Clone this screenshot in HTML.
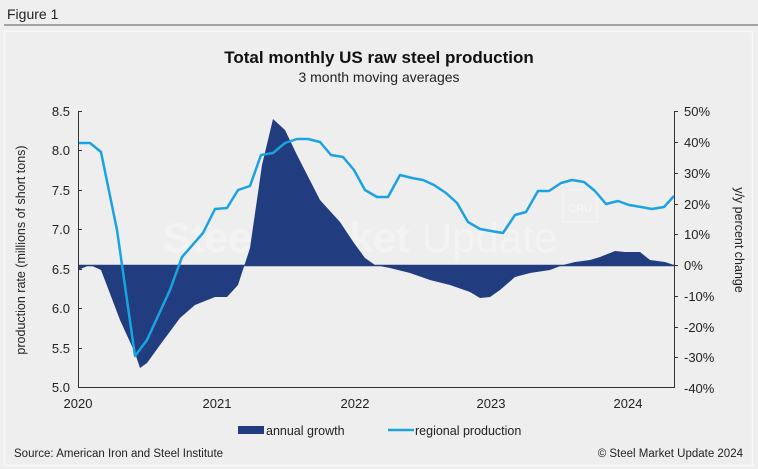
<!DOCTYPE html>
<html><head><meta charset="utf-8"><style>
body{margin:0;background:#efefef;}
svg{display:block;font-family:"Liberation Sans",Arial,sans-serif;}
</style></head><body>
<svg width="758" height="469" viewBox="0 0 758 469">
<rect width="758" height="469" fill="#efefef"/>
<text x="7" y="19" font-size="14" fill="#222">Figure 1</text>
<line x1="4" y1="25" x2="758" y2="25" stroke="#555" stroke-width="1"/>
<rect x="4.5" y="31.5" width="748" height="434" fill="#eeeeee" stroke="#f8f8f8" stroke-width="1.5"/>
<text x="379" y="63" font-size="17" font-weight="bold" text-anchor="middle" fill="#111">Total monthly US raw steel production</text>
<text x="379" y="82" font-size="14" text-anchor="middle" fill="#222">3 month moving averages</text>
<text x="360" y="252" font-size="42" font-weight="bold" text-anchor="middle" fill="#ffffff" fill-opacity="0.3">Steel Market <tspan font-weight="normal">Update</tspan></text>
<rect x="563" y="190" width="34" height="32" fill="none" stroke="#fff" stroke-opacity="0.4"/>
<text x="580" y="212" font-size="11" text-anchor="middle" fill="#fff" fill-opacity="0.5">CRU</text>
<!-- area -->
<path d="M78,265 L78,270 L90,265 L101,270 L120,320 L135,353 L140,368 L147,363 L160,345 L180,318 L195,305 L215,297 L227,297 L238,285 L250,248 L262,165 L273,119 L285,130 L297,155 L320,200 L340,222 L354,243 L365,258 L375,265 L390,268 L410,273 L430,280 L450,285 L470,292 L480,298 L490,297 L500,290 L515,277 L530,273 L550,270 L563,265 L575,262 L590,260 L600,257 L615,251 L625,252 L640,252 L650,260 L665,262 L674,265 Z" fill="#223d7f"/>
<line x1="78" y1="265.5" x2="674" y2="265.5" stroke="#223d7f" stroke-width="1.5"/>
<!-- line -->
<polyline fill="none" stroke="#1aa3e0" stroke-width="2.5" stroke-linejoin="round" points="78,143 90,143 101,152 117,230 135,356 147,340 170,290 182,257 203,233 215,209 227,208 238,190 250,186 261,155 273,153 285,143 297,139 308,139 320,142 331,155 343,157 354,170 365,190 377,197 388,197 400,175 412,178 423,180 434,185 446,193 457,203 468,222 480,229 491,231 503,233 515,215 526,212 538,191 549,191 561,183 572,180 584,182 595,191 606,204 618,201 629,205 641,207 652,209 664,207 674,196"/>
<!-- axes -->
<g stroke="#333" stroke-width="1">
<line x1="78.5" y1="111" x2="78.5" y2="388"/>
<line x1="78" y1="387.5" x2="674" y2="387.5"/>
<line x1="674.5" y1="111" x2="674.5" y2="388"/>
<line x1="78" y1="111.5" x2="82" y2="111.5"/><line x1="78" y1="150.5" x2="82" y2="150.5"/><line x1="78" y1="190.5" x2="82" y2="190.5"/><line x1="78" y1="229.5" x2="82" y2="229.5"/><line x1="78" y1="269.5" x2="82" y2="269.5"/><line x1="78" y1="308.5" x2="82" y2="308.5"/><line x1="78" y1="348.5" x2="82" y2="348.5"/>
<line x1="674" y1="111.5" x2="678" y2="111.5"/><line x1="674" y1="142.5" x2="678" y2="142.5"/><line x1="674" y1="173.5" x2="678" y2="173.5"/><line x1="674" y1="204.5" x2="678" y2="204.5"/><line x1="674" y1="234.5" x2="678" y2="234.5"/><line x1="674" y1="265.5" x2="678" y2="265.5"/><line x1="674" y1="296.5" x2="678" y2="296.5"/><line x1="674" y1="327.5" x2="678" y2="327.5"/><line x1="674" y1="357.5" x2="678" y2="357.5"/>
</g>
<g font-size="13" fill="#222" text-anchor="end">
<text x="70" y="116">8.5</text><text x="70" y="155">8.0</text><text x="70" y="195">7.5</text><text x="70" y="234">7.0</text><text x="70" y="274">6.5</text><text x="70" y="313">6.0</text><text x="70" y="353">5.5</text><text x="70" y="392">5.0</text>
</g>
<g font-size="13" fill="#222">
<text x="684" y="116">50%</text><text x="684" y="147">40%</text><text x="684" y="178">30%</text><text x="684" y="209">20%</text><text x="684" y="239">10%</text><text x="684" y="270">0%</text><text x="684" y="301">-10%</text><text x="684" y="332">-20%</text><text x="684" y="362">-30%</text><text x="684" y="393">-40%</text>
</g>
<g font-size="13" fill="#222" text-anchor="middle">
<text x="78" y="408">2020</text><text x="217" y="408">2021</text><text x="355" y="408">2022</text><text x="491" y="408">2023</text><text x="628" y="408">2024</text>
</g>
<text transform="translate(25,250) rotate(-90)" font-size="12.5" fill="#222" text-anchor="middle">production rate (millions of short tons)</text>
<text transform="translate(735,240) rotate(90)" font-size="12.5" fill="#222" text-anchor="middle">y/y percent change</text>
<rect x="238" y="426" width="26" height="8" fill="#223d7f"/>
<text x="266" y="435" font-size="12.5" fill="#222">annual growth</text>
<line x1="388" y1="430" x2="414" y2="430" stroke="#1aa3e0" stroke-width="2.5"/>
<text x="415" y="435" font-size="12.5" fill="#222">regional production</text>
<text x="14" y="457" font-size="11.5" fill="#222">Source: American Iron and Steel Institute</text>
<text x="743" y="457" font-size="11.5" fill="#222" text-anchor="end">© Steel Market Update 2024</text>
</svg>
</body></html>
